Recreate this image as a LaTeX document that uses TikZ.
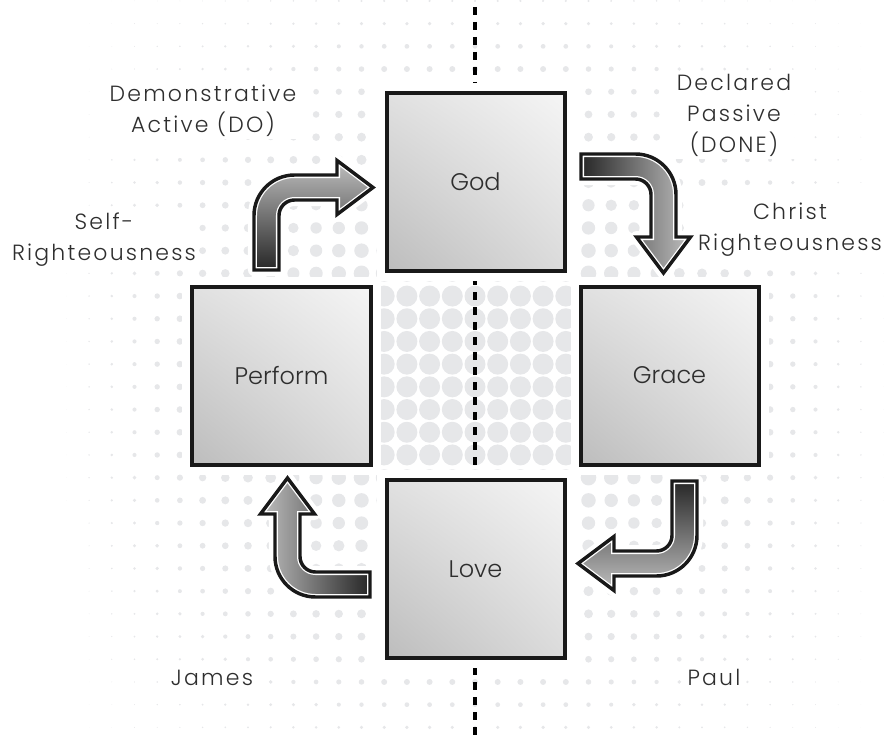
\documentclass[tikz,border=0pt]{standalone}
\usepackage{fontspec}
\usetikzlibrary{shadings}
\setmainfont{Poppins}[UprightFont=* Light]
\newfontfamily\notefont{Poppins}[UprightFont=* Light, LetterSpace=10]
\definecolor{dotgray}{HTML}{E6E7E9}
\definecolor{ink}{HTML}{2E2E2E}
\tikzset{
	cell/.style={draw=black!90, line width=3pt, minimum size=133.5pt, shade,
		upper right=black!4, upper left=black!12, lower right=black!14, lower left=black!26,
		preaction={draw=white, line width=15pt},
		text=ink, font=\fontsize{18}{22}\selectfont},
	note/.style={fill=white, inner sep=2pt, align=center, text=ink,
		font=\notefont\fontsize{16.5}{23.25}\selectfont},
	axis/.style={line width=3pt, dash pattern=on 6pt off 5.25pt, dash phase=6pt},
	bendfill/.style={left color=black!25, middle color=black!68, right color=black!85},
}
\def\bend{(-221.5,105.5) -- (-221.5,160) arc[start angle=180, end angle=90, radius=40.5]
	-- (-138.5,200.5) -- (-138.5,215) -- (-102.5,188) -- (-138.5,161) -- (-138.5,175.5)
	-- (-181,175.5) arc[start angle=90, end angle=180, radius=15.5] -- (-196.5,105.5) -- cycle}
\begin{document}
\begin{tikzpicture}[x=0.75pt, y=0.75pt]
	\useasboundingbox (-475.5,-360.5) rectangle (411.5,375.5);
	
	% dot screen
	\foreach \c in {-18,...,18}
		\foreach \r in {-17,...,16} {
			\pgfmathsetmacro{\cx}{abs(\c)}
			\pgfmathsetmacro{\cy}{abs(\r+0.5)}
			\pgfmathsetmacro{\sz}{(\cx<=4 && \cy<=3.5) ? 21 : 18*max(0,1-0.07*max(0,\cx-4))*max(0,1-0.0667*max(0,\cy-3.5))}
			\ifdim \sz pt>0.3pt
				\fill[dotgray] (\c*22.7-0.5, \r*22.7+11.35) circle[radius=\sz/2];
			\fi
		}
	
	\coordinate (top) at (-0.5,375.5);
	\coordinate (bottom) at (-0.5,-360.5);
	\draw[axis] (top) -- (bottom);
	
	% base anchor sits on the last line
	\node[note, anchor=base] (DA) at (-272.5,243.5) {Demonstrative\\Active (DO)};
	\node[note, anchor=base] (SR) at (-371.5,115.5) {Self-\\Righteousness};
	\node[note, anchor=base] (DP) at (258.5,223.5) {Declared\\Passive\\(DONE)};
	\node[note, anchor=base] (CR) at (314.5,125.5) {Christ\\Righteousness};
	\node[note, anchor=base] (James) at (-263.5,-309.5) {James};
	\node[note, anchor=base] (Paul) at (238.5,-309.5) {Paul};
	
	\node[cell] (God) at (0,193.5) {God};
	\node[cell] (Perform) at (-194,0) {Perform};
	\node[cell] (Grace) at (194,0) {Grace};
	\node[cell] (Love) at (0,-193.5) {Love};
	
	\foreach \a in {0,-90,-180,-270} {
		\begin{scope}[rotate=\a]
			\draw[white, line width=9pt, line join=round] \bend;
			\begin{scope}
				\clip \bend;
				\shade[bendfill, shading angle=\a] \bend;
				\draw[white, line width=4.5pt] \bend;
			\end{scope}
			\draw[black!90, line width=2.6pt] \bend;
		\end{scope}
	}
\end{tikzpicture}
\end{document}
